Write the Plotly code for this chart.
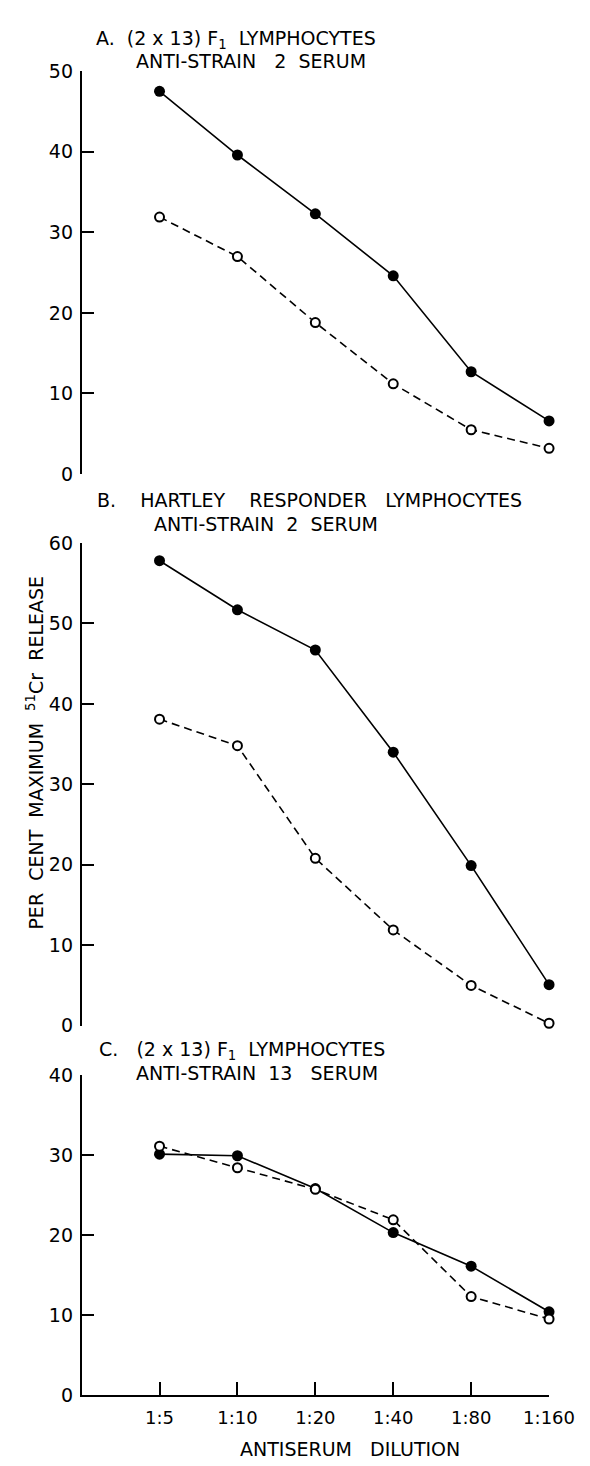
import plotly.graph_objects as go

# ---- data ----
dilutions = ["1:5", "1:10", "1:20", "1:40", "1:80", "1:160"]

a_filled = [47.5, 39.6, 32.3, 24.6, 12.7, 6.6]
a_open = [31.9, 27.0, 18.8, 11.2, 5.5, 3.2]

b_filled = [57.8, 51.7, 46.7, 34.0, 19.9, 5.1]
b_open = [38.1, 34.8, 20.8, 11.9, 5.0, 0.3]

c_filled = [30.1, 29.9, 25.8, 20.3, 16.1, 10.4]
c_open = [31.1, 28.4, 25.7, 21.9, 12.3, 9.5]

a_ticks = [0, 10, 20, 30, 40, 50]
b_ticks = [0, 10, 20, 30, 40, 50, 60]
c_ticks = [0, 10, 20, 30, 40]

W, H = 590, 1466
FONT = "DejaVu Sans"
S = "\u00a0"


def py(px):
    return 1 - px / H


def pxx(px):
    return px / W


fig = go.Figure()

panels = [
    (a_filled, a_open, "x", "y"),
    (b_filled, b_open, "x2", "y2"),
    (c_filled, c_open, "x3", "y3"),
]
for filled, opn, xa, ya in panels:
    fig.add_trace(go.Scatter(
        x=dilutions, y=filled, xaxis=xa, yaxis=ya, mode="lines+markers",
        line=dict(color="black", width=1.6),
        marker=dict(symbol="circle", size=11, color="black"),
        cliponaxis=False, showlegend=False, hoverinfo="skip"))
    fig.add_trace(go.Scatter(
        x=dilutions, y=opn, xaxis=xa, yaxis=ya, mode="lines+markers",
        line=dict(color="black", width=1.6, dash="8px,5px"),
        marker=dict(symbol="circle", size=9, color="white",
                    line=dict(color="black", width=2)),
        cliponaxis=False, showlegend=False, hoverinfo="skip"))

xdom = [pxx(77), pxx(566)]
xcommon = dict(type="category", categoryorder="array", categoryarray=dilutions,
               range=[-1, 5], domain=xdom, fixedrange=True)
ycommon = dict(showline=True, linecolor="black", linewidth=1.6,
               ticks="inside", ticklen=13, tickwidth=1.5, tickcolor="black",
               showgrid=False, zeroline=False,
               tickfont=dict(family=FONT, size=19, color="black"),
               ticklabelstandoff=3)

fig.update_layout(
    width=W, height=H,
    margin=dict(l=0, r=0, t=0, b=0),
    paper_bgcolor="white", plot_bgcolor="white",
    xaxis=dict(**xcommon, anchor="y", showline=False, ticks="",
               showticklabels=False, showgrid=False, zeroline=False),
    xaxis2=dict(**xcommon, anchor="y2", showline=False, ticks="",
                showticklabels=False, showgrid=False, zeroline=False),
    xaxis3=dict(**xcommon, anchor="y3", showline=True, linecolor="black",
                linewidth=1.6, ticks="inside", ticklen=13, tickwidth=1.5,
                tickcolor="black", showgrid=False, zeroline=False,
                tickfont=dict(family=FONT, size=18, color="black"),
                ticklabelstandoff=6),
    yaxis=dict(ycommon, anchor="x", range=[0, 50], tickvals=a_ticks,
               domain=[py(462), py(53)]),
    yaxis2=dict(ycommon, anchor="x2", range=[0, 60], tickvals=b_ticks,
                domain=[py(1022), py(532)]),
    yaxis3=dict(ycommon, anchor="x3", range=[0, 40], tickvals=c_ticks,
                domain=[py(1397), py(1072)]),
)

titles = [
    (f"A.{S*2}(2 x 13) F<sub>1</sub>{S*2}LYMPHOCYTES", 90, 21, "left"),
    (f"ANTI-STRAIN{S*3}2{S*2}SERUM", 254, 43, "center"),
    (f"B.{S*4}HARTLEY{S*4}RESPONDER{S*3}LYMPHOCYTES", 91, 488, "left"),
    (f"ANTI-STRAIN{S*2}2{S*2}SERUM", 270, 513, "center"),
    (f"C.{S*3}(2 x 13){S}F<sub>1</sub>{S*2}LYMPHOCYTES", 93, 1047, "left"),
    (f"ANTI-STRAIN{S*2}13{S*3}SERUM", 261, 1070, "center"),
]
for text, x, y, anchor in titles:
    fig.add_annotation(text=text, x=pxx(x), y=py(y), xref="paper", yref="paper",
                       xanchor=anchor, yanchor="middle", showarrow=False,
                       font=dict(family=FONT, size=19, color="black"))

fig.add_annotation(text=f"PER{S*2}CENT{S*2}MAXIMUM{S*2}<sup>51</sup>Cr{S*2}RELEASE",
                   x=pxx(28), y=py(745), xref="paper", yref="paper",
                   xanchor="center", yanchor="middle", textangle=-90,
                   showarrow=False, font=dict(family=FONT, size=19, color="black"))

fig.add_annotation(text=f"ANTISERUM{S*3}DILUTION",
                   x=pxx(358), y=py(1452), xref="paper", yref="paper",
                   xanchor="center", yanchor="middle", showarrow=False,
                   font=dict(family=FONT, size=19, color="black"))

fig.write_html("out.html")
